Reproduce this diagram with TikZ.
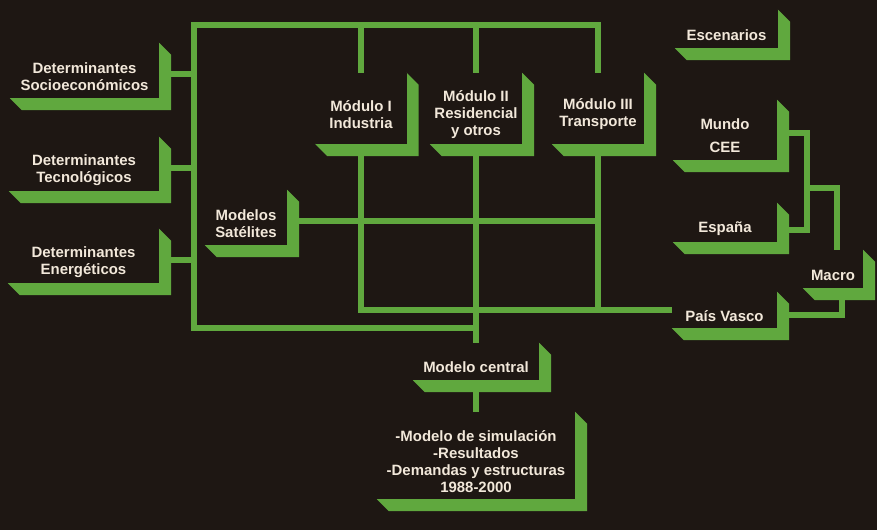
\documentclass[tikz,border=0pt]{standalone}
\usepackage{fontspec}
\setmainfont{Liberation Sans}
\usepackage{tikz}
\definecolor{bgc}{RGB}{30,23,19}
\definecolor{grn}{RGB}{96,168,62}
\definecolor{txt}{RGB}{242,232,218}
\newcommand{\hd}{\rule{0pt}{23bp}}
\pgfdeclarelayer{back}
\pgfdeclarelayer{wires}
\pgfsetlayers{back,wires,main}

\begin{document}
\begin{tikzpicture}[
    x=1bp, y=-1bp,
    box/.style={
      rectangle, inner sep=0pt, fill=bgc, text=txt, align=center,
      font=\fontsize{15}{17}\selectfont\bfseries
    },
    wire/.style={draw=grn, line width=6bp, line cap=rect},
    ledge/.style={fill=grn},
  ]
    \begin{pgfonlayer}{back}
      \fill[bgc] (0,0) rectangle (877,530);
    \end{pgfonlayer}
    \useasboundingbox (0,0) rectangle (877,530);

    \node[box, minimum width=149bp, minimum height=55bp] (socio)   at (84.5,70.5)  {\hd Determinantes\\Socioeconómicos};
    \node[box, minimum width=150bp, minimum height=54bp] (tecno)   at (84,164)     {\hd Determinantes\\Tecnológicos};
    \node[box, minimum width=151bp, minimum height=54bp] (energ)   at (83.5,256)   {\hd Determinantes\\Energéticos};
    \node[box, minimum width=82bp,  minimum height=55bp] (sat)     at (246,217.5)  {\hd Modelos\\Satélites};
    \node[box, minimum width=91bp,  minimum height=71bp] (mod1)    at (361,108.5)  {\hd Módulo I\\Industria};
    \node[box, minimum width=92bp,  minimum height=71bp] (mod2)    at (476,108.5)  {\hd Módulo II\\Residencial\\y otros};
    \node[box, minimum width=92bp,  minimum height=71bp] (mod3)    at (598,108.5)  {\hd Módulo III\\Transporte};
    \node[box, minimum width=126bp, minimum height=37bp] (central) at (476,361.5)  {\hd Modelo central};
    \node[box, minimum width=198bp, minimum height=87bp] (result)  at (476,455.5)  {\hd -Modelo de simulación\\-Resultados\\-Demandas y estructuras\\1988-2000};
    \node[box, minimum width=103bp, minimum height=38bp] (esc)     at (726.5,29)   {\hd Escenarios};
    \node[box, minimum width=104bp, minimum height=60bp] (mundo)   at (725,130)    {\hd Mundo\\[6bp]CEE};
    \node[box, minimum width=104bp, minimum height=39bp] (espana)  at (725,222.5)  {\hd España};
    \node[box, minimum width=60bp,  minimum height=38bp] (macro)   at (833,269)    {\hd Macro};
    \node[box, minimum width=105bp, minimum height=36bp] (pais)    at (724.5,310)  {\hd País Vasco};

    \coordinate (tl)   at (194,25);
    \coordinate (bl)   at (194,328);
    \coordinate (join) at (807,188);

    \begin{pgfonlayer}{wires}
      \foreach \n in {socio,tecno,energ,sat,mod1,mod2,mod3,central,result,esc,mundo,espana,macro,pais}
        \fill[ledge] (\n.south west) -- ++(12,12) -| ([shift={(12,12)}]\n.north east) -- (\n.north east) -- cycle;

      \draw[wire] (bl) -- (tl) -| (mod3.north);
      \draw[wire] (mod1.north) -- (mod1.north |- tl);
      \draw[wire] (mod2.north) -- (mod2.north |- tl);
      \draw[wire] ([yshift=-4bp]socio.east) -| (bl);
      \draw[wire] ([yshift=-4bp]tecno.east) -| (bl);
      \draw[wire] ([yshift=-4bp]energ.east) -| (bl);
      \draw[wire] (bl) -| (central.north);
      \draw[wire] (mod2.south) -- (central.north);
      \draw[wire] (central.south) -- (result.north);
      \draw[wire] (mod1.south) |- (pais.west);
      \draw[wire] (mod3.south) -- (mod3.south |- pais.west);
      \draw[wire] ([yshift=-4bp]sat.east) -| (mod3.south);
      \draw[wire] ([yshift=-3bp]mundo.east) -| (join) |- ([yshift=-8bp]espana.east);
      \draw[wire] (join) -| ([xshift=4bp]macro.north);
      \draw[wire] ([xshift=9bp]macro.south) |- ([yshift=-5bp]pais.east);
    \end{pgfonlayer}
  \end{tikzpicture}
\end{document}
